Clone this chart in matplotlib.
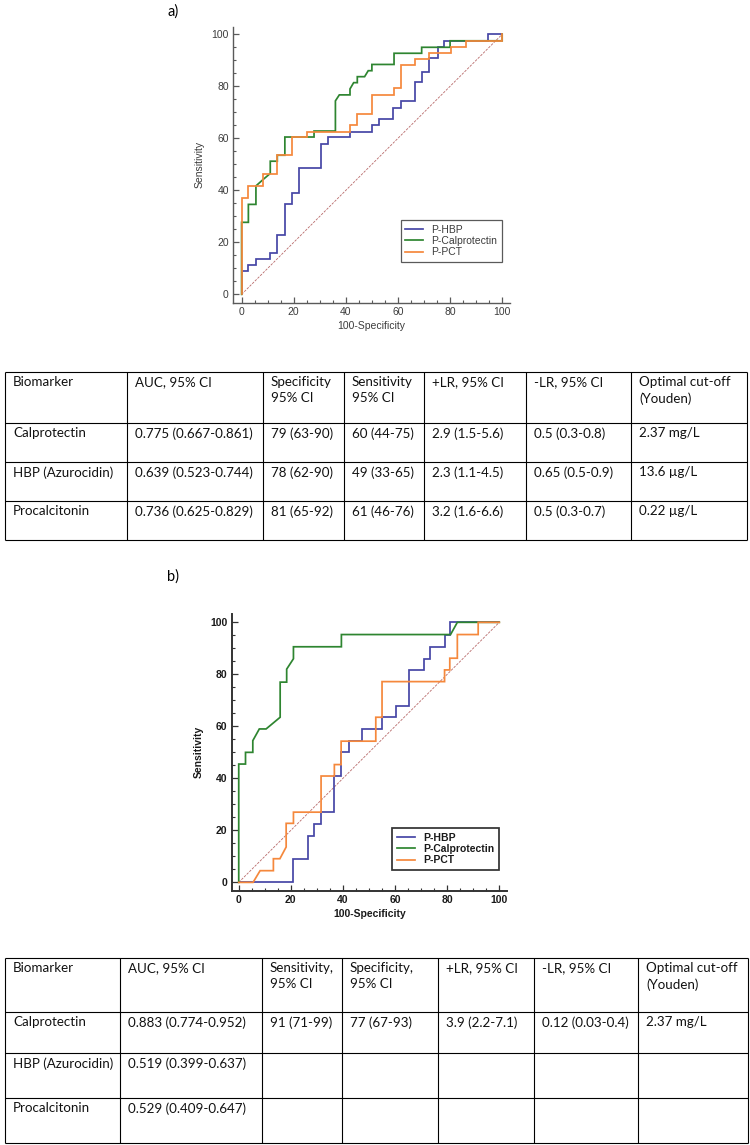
import matplotlib
matplotlib.use("Agg")
import matplotlib.pyplot as plt
from matplotlib.ticker import MultipleLocator

# ---- ROC curve vertices, panel a ----
a_hbp_x = [0, 0, 2.6, 2.6, 5.5, 5.5, 10.9, 10.9, 13.7, 13.7, 16.6, 16.6, 19.4, 19.4, 22, 22,
           30.5, 30.5, 33, 33, 41.6, 41.6, 50, 50, 52.7, 52.7, 58, 58, 61, 61, 66.6, 66.6,
           69.1, 69.1, 72.1, 72.1, 75.2, 75.2, 77.7, 77.7, 94.4, 94.4, 100]
a_hbp_y = [0, 9.1, 9.1, 11.3, 11.3, 13.6, 13.6, 16, 16, 22.8, 22.8, 34.6, 34.6, 39, 39, 48.7,
           48.7, 58, 58, 60.5, 60.5, 62.5, 62.5, 65, 65, 67.3, 67.3, 71.8, 71.8, 74.2, 74.2, 81.5,
           81.5, 85.6, 85.6, 90.8, 90.8, 95, 95, 97.5, 97.5, 100, 100]

a_cal_x = [0, 0, 2.6, 2.6, 5.5, 5.5, 8.3, 11, 11, 13.7, 13.7, 16.6, 16.6, 27.8, 27.8, 36, 36,
           37.5, 41.6, 41.6, 43, 44.4, 44.4, 47.2, 48.6, 50, 50, 58.5, 58.5, 69.1, 69.1, 80, 80,
           100, 100]
a_cal_y = [0, 27.7, 27.7, 34.6, 34.6, 41.7, 44.2, 46.5, 51.2, 51.2, 53.5, 53.5, 60.5, 60.5, 62.8,
           62.8, 74.4, 76.7, 76.7, 79, 81.4, 81.4, 83.7, 83.7, 86, 86, 88.4, 88.4, 92.7, 92.7, 95,
           95, 97.5, 97.5, 100]

a_pct_x = [0, 0, 2.6, 2.6, 8.3, 8.3, 13.7, 13.7, 19.4, 19.4, 25, 25, 41.6, 41.6, 44.4, 44.4,
           50, 50, 58.5, 58.5, 61.1, 61.1, 66.6, 66.6, 72.1, 72.1, 80.3, 80.3, 86.2, 86.2, 100, 100]
a_pct_y = [0, 36.9, 36.9, 41.7, 41.7, 46.4, 46.4, 53.5, 53.5, 60.5, 60.5, 62.5, 62.5, 65, 65,
           69.5, 69.5, 76.6, 76.6, 79.2, 79.2, 88.2, 88.2, 90.4, 90.4, 92.7, 92.7, 95, 95, 97.5,
           97.5, 100]

# ---- ROC curve vertices, panel b ----
b_hbp_x = [0, 21, 21, 26.4, 26.4, 28.7, 28.7, 31.6, 31.6, 36.7, 36.7, 39.3, 39.3, 42.3, 42.3,
           47.4, 47.4, 55.1, 55.1, 60.3, 60.3, 65.5, 65.5, 71, 71, 73.5, 73.5, 79, 79, 81, 81, 100]
b_hbp_y = [0, 0, 9, 9, 18, 18, 22.5, 22.5, 27, 27, 40.8, 40.8, 50, 50, 54.3, 54.3, 58.9, 58.9,
           63.5, 63.5, 68, 68, 81.5, 81.5, 86, 86, 90.5, 90.5, 95.3, 95.3, 100, 100]

b_cal_x = [0, 0, 2.6, 2.6, 5.4, 5.4, 7.9, 10.5, 15.9, 15.9, 18.4, 18.4, 21, 21, 39.4, 39.4,
           81.3, 83.9, 100]
b_cal_y = [0, 45.5, 45.5, 50, 50, 54.5, 59, 59, 63.5, 77, 77, 82, 86, 90.6, 90.6, 95.3,
           95.3, 100, 100]

b_pct_x = [0, 5.5, 8.2, 13.3, 13.3, 15.8, 18.2, 18.2, 21, 21, 31.6, 31.6, 36.7, 36.7, 39.3,
           39.3, 52.6, 52.6, 55, 55, 79, 79, 81, 81, 83.9, 83.9, 91.9, 91.9, 100]
b_pct_y = [0, 0, 4.5, 4.5, 9.1, 9.1, 13.6, 22.7, 22.7, 27, 27, 40.9, 40.9, 45.3, 45.3, 54.3,
           54.3, 63.5, 63.5, 77.2, 77.2, 81.7, 81.7, 86.2, 86.2, 95.3, 95.3, 100, 100]

legend_labels = ["P-HBP", "P-Calprotectin", "P-PCT"]

# ---- tables ----
a_header = ["Biomarker", "AUC, 95% CI", "Specificity\n95% CI", "Sensitivity\n95% CI",
            "+LR, 95% CI", "-LR, 95% CI", "Optimal cut-off\n(Youden)"]
a_rows = [
    ["Calprotectin", "0.775 (0.667-0.861)", "79 (63-90)", "60 (44-75)", "2.9 (1.5-5.6)",
     "0.5 (0.3-0.8)", "2.37 mg/L"],
    ["HBP (Azurocidin)", "0.639 (0.523-0.744)", "78 (62-90)", "49 (33-65)", "2.3 (1.1-4.5)",
     "0.65 (0.5-0.9)", "13.6 \u00b5g/L"],
    ["Procalcitonin", "0.736 (0.625-0.829)", "81 (65-92)", "61 (46-76)", "3.2 (1.6-6.6)",
     "0.5 (0.3-0.7)", "0.22 \u00b5g/L"],
]
b_header = ["Biomarker", "AUC, 95% CI", "Sensitivity,\n95% CI", "Specificity,\n95% CI",
            "+LR, 95% CI", "-LR, 95% CI", "Optimal cut-off\n(Youden)"]
b_rows = [
    ["Calprotectin", "0.883 (0.774-0.952)", "91 (71-99)", "77 (67-93)", "3.9 (2.2-7.1)",
     "0.12 (0.03-0.4)", "2.37 mg/L"],
    ["HBP (Azurocidin)", "0.519 (0.399-0.637)", "", "", "", "", ""],
    ["Procalcitonin", "0.529 (0.409-0.647)", "", "", "", "", ""],
]

W, H = 750, 1145
BLUE, GREEN, ORANGE = "#4646a6", "#2e8530", "#f5883c"
DIAG = "#b86a6a"

fig = plt.figure(figsize=(W / 100, H / 100), dpi=100)


def px_axes(left, top, right, bottom):
    return fig.add_axes([left / W, 1 - bottom / H, (right - left) / W, (bottom - top) / H])


def roc_panel(ax, curves, xlim, ylim, bold, spine_col, text_col, spine_lw, leg_anchor):
    weight = "bold" if bold else "normal"
    for (xs, ys), col, lab in zip(curves, [BLUE, GREEN, ORANGE], legend_labels):
        ax.plot(xs, ys, color=col, lw=1.25, label=lab, solid_joinstyle="miter", zorder=3)
    ax.plot([0, 100], [0, 100], color=DIAG, lw=0.6, ls=(0, (3, 1.5)), zorder=2)
    ax.set_xlim(*xlim)
    ax.set_ylim(*ylim)
    for s in ["top", "right"]:
        ax.spines[s].set_visible(False)
    for s in ["left", "bottom"]:
        ax.spines[s].set_color(spine_col)
        ax.spines[s].set_linewidth(spine_lw)
    ax.xaxis.set_major_locator(MultipleLocator(20))
    ax.yaxis.set_major_locator(MultipleLocator(20))
    ax.xaxis.set_minor_locator(MultipleLocator(5))
    ax.yaxis.set_minor_locator(MultipleLocator(5))
    ax.tick_params(which="major", direction="in", length=4.5, width=0.9, color=spine_col,
                   labelsize=7.5, labelcolor=text_col, pad=3)
    ax.tick_params(which="minor", direction="in", length=2.3, width=0.8, color=spine_col)
    for lab in ax.get_xticklabels() + ax.get_yticklabels():
        lab.set_fontweight(weight)
    ax.set_xlabel("100-Specificity", fontsize=7.5, color=text_col, fontweight=weight, labelpad=3)
    ax.set_ylabel("Sensitivity", fontsize=7.5, color=text_col, fontweight=weight, labelpad=5)
    leg = ax.legend(loc="upper right", bbox_to_anchor=leg_anchor, borderaxespad=0,
                    fancybox=False, framealpha=1, edgecolor=spine_col,
                    prop={"size": 7.5, "weight": weight}, handlelength=1.7,
                    handletextpad=0.8, labelspacing=0.12, borderpad=0.45)
    leg.get_frame().set_linewidth(spine_lw * 0.9)
    for t in leg.get_texts():
        t.set_color(text_col)


plt.rcParams["font.family"] = ["Liberation Sans", "DejaVu Sans"]

ax_a = px_axes(233, 27, 510, 302.7)
roc_panel(ax_a, [(a_hbp_x, a_hbp_y), (a_cal_x, a_cal_y), (a_pct_x, a_pct_y)],
          (-3.3, 103), (-3.2, 102.8), False, "#5a5a5a", "#3c3c3c", 1.0, (0.971, 0.300))

ax_b = px_axes(231.7, 614, 507.1, 890.7)
roc_panel(ax_b, [(b_hbp_x, b_hbp_y), (b_cal_x, b_cal_y), (b_pct_x, b_pct_y)],
          (-2.7, 103), (-3.2, 103.2), True, "#333333", "#1a1a1a", 1.4, (0.9706, 0.2266))

# ---- overlay for panel letters and tables (pixel coordinates) ----
ov = fig.add_axes([0, 0, 1, 1])
ov.set_xlim(0, W)
ov.set_ylim(H, 0)
ov.axis("off")

TFONT = ["Lato", "DejaVu Sans"]
ov.text(179, 12, "a)", fontsize=10.5, family=TFONT, va="center", ha="right")
ov.text(179, 577, "b)", fontsize=10.5, family=TFONT, va="center", ha="right")


def draw_table(cols, rows_y, header, rows):
    lw = 0.8
    for y in rows_y:
        ov.plot([cols[0], cols[-1]], [y, y], color="black", lw=lw, solid_capstyle="butt")
    for x in cols:
        ov.plot([x, x], [rows_y[0], rows_y[-1]], color="black", lw=lw, solid_capstyle="butt")
    for r, line in enumerate([header] + rows):
        for c, txt in enumerate(line):
            ov.text(cols[c] + 8, rows_y[r] + 4, txt, fontsize=9.6, family=TFONT,
                    va="top", ha="left", linespacing=1.45, color="#111111")


draw_table([5, 127, 263, 344, 424, 526, 631, 747], [372, 423, 462, 501, 540], a_header, a_rows)
draw_table([5, 120, 262, 342, 438, 534, 638, 748], [958, 1012, 1053, 1098, 1143], b_header, b_rows)

fig.savefig("out.png", dpi=100)
